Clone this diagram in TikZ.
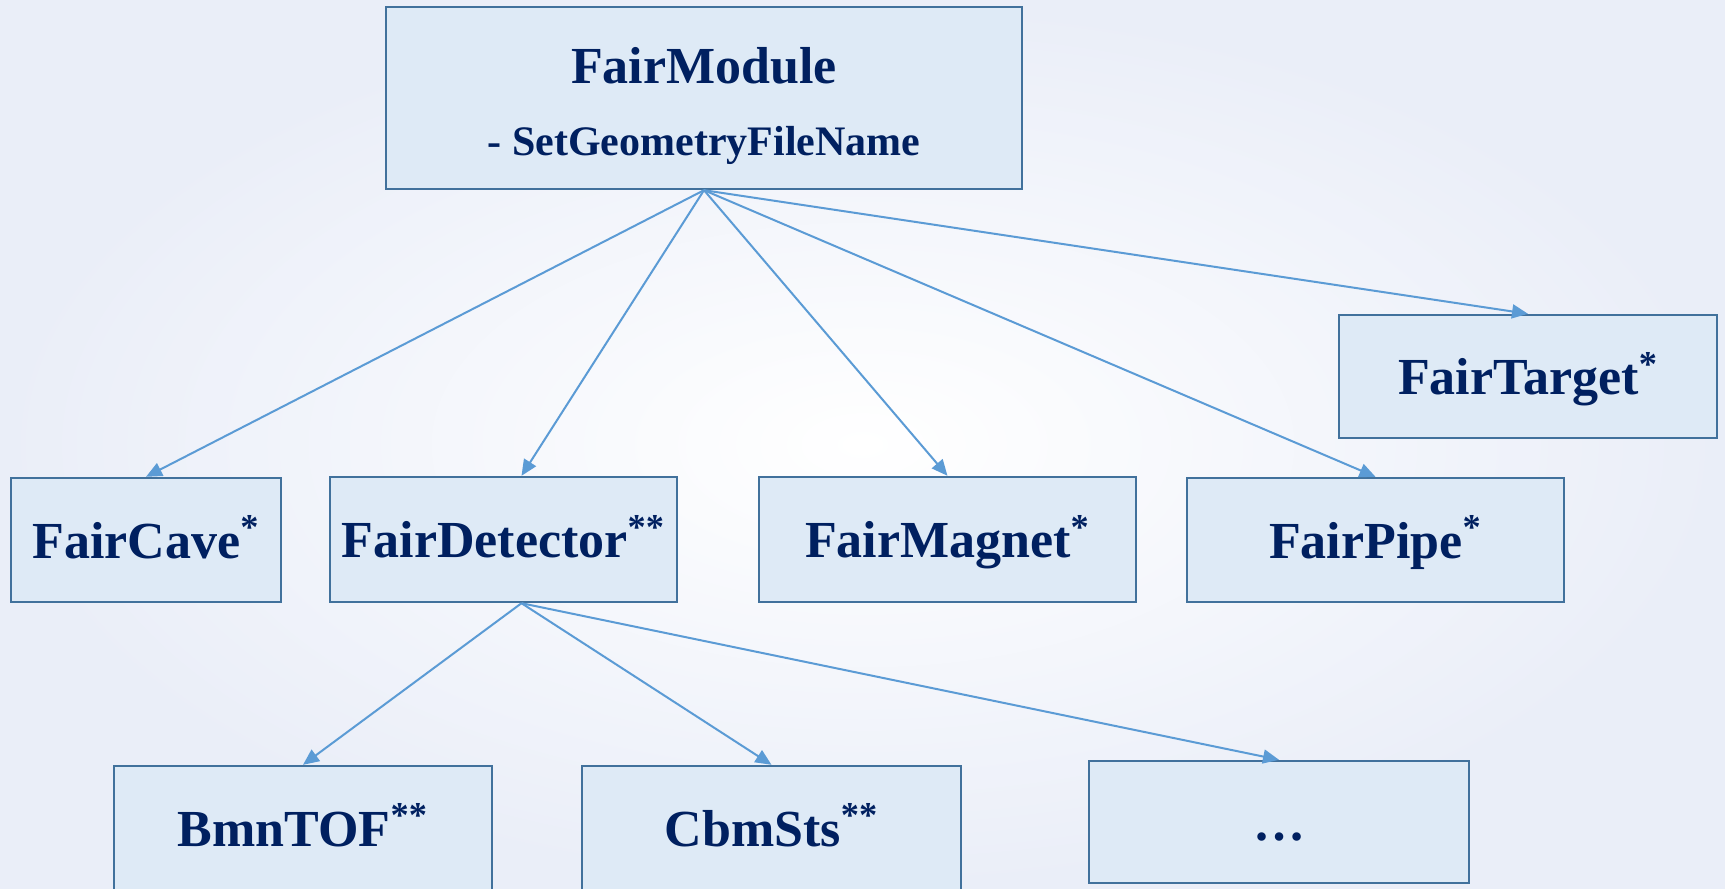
\documentclass[tikz,border=0pt]{standalone}
\usepackage{fontspec}
\setmainfont{Liberation Serif}
\usetikzlibrary{arrows.meta}

\definecolor{boxfill}{RGB}{222,234,246}
\definecolor{boxline}{RGB}{65,113,156}
\definecolor{navy}{RGB}{0,32,96}
\definecolor{arrowblue}{RGB}{91,155,213}
\definecolor{bgblue}{RGB}{234,238,248}

\tikzset{
  cls/.style={draw=boxline, fill=boxfill, line width=1.2pt, text=navy,
    font=\fontsize{26}{30}\selectfont\bfseries, inner sep=0pt, align=center},
  leaf/.style={cls, text height=23pt, text depth=5pt},
  inh/.style={draw=arrowblue, line width=1pt, -{Triangle[length=8pt,width=7pt]}}
}

\begin{document}
\begin{tikzpicture}[x=0.5pt,y=-0.5pt]
\useasboundingbox (0,0) rectangle (1725,889);
\shade[inner color=white, outer color=bgblue] (0,0) rectangle (1725,889);

% base class
\node[cls, minimum width=318pt, minimum height=91pt] (mod) at (704,98)
  {\rule{0pt}{26pt}FairModule\\[6pt]{\fontsize{21}{25}\selectfont - SetGeometryFileName}};

% derived classes
\node[leaf, minimum width=189pt, minimum height=61.5pt] (target) at (1528,376.5) {FairTarget\textsuperscript{*}};
\node[leaf, minimum width=135pt, minimum height=62pt] (cave) at (146,540) {FairCave\textsuperscript{*}};
\node[leaf, minimum width=173.5pt, minimum height=62.5pt] (det) at (503.5,539.5) {FairDetector\textsuperscript{**}};
\node[leaf, minimum width=188.5pt, minimum height=62.5pt] (magnet) at (947.5,539.5) {FairMagnet\textsuperscript{*}};
\node[leaf, minimum width=188.5pt, minimum height=62pt] (pipe) at (1375.5,540) {FairPipe\textsuperscript{*}};

% detectors
\node[leaf, minimum width=189pt, minimum height=62pt] (tof) at (303,828) {BmnTOF\textsuperscript{**}};
\node[leaf, minimum width=189.5pt, minimum height=62pt] (sts) at (771.5,828) {CbmSts\textsuperscript{**}};
\node[leaf, minimum width=190pt, minimum height=61pt] (more) at (1279,822) {\ldots};

\foreach \n in {cave, magnet, pipe, target}
  \draw[inh] (mod.south) -- (\n.north);
\draw[inh] (mod.south) -- ([xshift=9pt]det.north);
\foreach \n in {tof, sts, more}
  \draw[inh] ([xshift=9pt]det.south) -- (\n.north);
\end{tikzpicture}
\end{document}
